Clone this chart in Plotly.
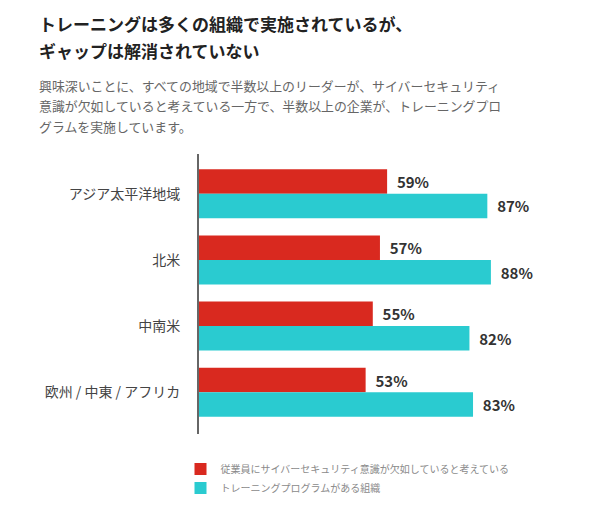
import plotly.graph_objects as go

regions = ["アジア太平洋地域", "北米", "中南米", "欧州 / 中東 / アフリカ"]
lack_awareness = [59, 57, 55, 53]
training = [87, 88, 82, 83]
series_names = ["従業員にサイバーセキュリティ意識が欠如していると考えている",
                "トレーニングプログラムがある組織"]
title_lines = ["トレーニングは多くの組織で実施されているが、", "ギャップは解消されていない"]
subtitle_lines = ["興味深いことに、すべての地域で半数以上のリーダーが、サイバーセキュリティ",
                  "意識が欠如していると考えている一方で、半数以上の企業が、トレーニングプロ",
                  "グラムを実施しています。"]

RED = "#D9291F"
CYAN = "#2ACBD0"
FONT = "Noto Sans CJK JP"

# page body has an 8px margin, so the figure is laid out in coords offset by 8px
OFF = 8
W, H = 616 - OFF, 506 - OFF
L, R, T, B = 191, 56, 146, 72
pw, ph = W - L - R, H - T - B

def px(x):
    return (x - OFF - L) / pw

def py(y):
    return (H - B - (y - OFF)) / ph

fig = go.Figure()
for name, vals, col in [(series_names[0], lack_awareness, RED), (series_names[1], training, CYAN)]:
    fig.add_trace(go.Bar(
        y=regions, x=vals, name=name, orientation="h",
        marker=dict(color=col, line=dict(width=0)),
        text=[f"\u00a0\u00a0{v}%" for v in vals], textposition="outside",
        textfont=dict(family=FONT, size=15, color="#333333", weight="bold"),
        cliponaxis=False,
    ))

ann = []
for t, yy in zip(title_lines, [23, 50]):
    ann.append(dict(text=t, xref="paper", yref="paper", x=px(37), y=py(yy),
                    xanchor="left", yanchor="middle", showarrow=False,
                    font=dict(family=FONT, size=17, color="#222222", weight="bold")))
for t, yy in zip(subtitle_lines, [85, 106, 127]):
    ann.append(dict(text=t, xref="paper", yref="paper", x=px(37), y=py(yy),
                    xanchor="left", yanchor="middle", showarrow=False,
                    font=dict(family=FONT, size=12.9, color="#666666")))

fig.update_layout(
    width=W, height=H,
    margin=dict(l=L, r=R, t=T, b=B, autoexpand=False),
    paper_bgcolor="white", plot_bgcolor="white",
    barmode="group", bargap=0.26, bargroupgap=0,
    showlegend=True,
    legend=dict(xref="container", yref="container", x=(180.5 - OFF) / W, y=1 - 446.5 / H,
                xanchor="left", yanchor="top",
                font=dict(family=FONT, size=10, color="#8a8a8a"),
                traceorder="normal", itemwidth=30, tracegroupgap=0),
    annotations=ann,
    xaxis=dict(range=[6.45, 107.3], visible=False, fixedrange=True),
    yaxis=dict(range=[3.63, -0.6], showline=True, linecolor="#666666", linewidth=2,
               ticks="outside", ticklen=0, ticklabelstandoff=14, showgrid=False,
               tickfont=dict(family=FONT, size=14, color="#444444")),
    font=dict(family=FONT),
)

fig.write_html("out.html")
